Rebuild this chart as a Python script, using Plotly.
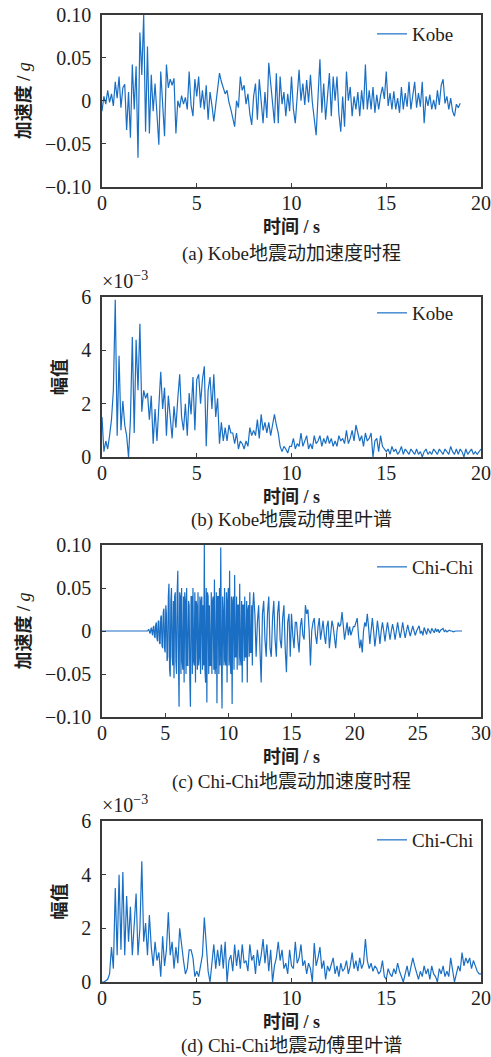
import numpy as np
import plotly.graph_objects as go

# ---------------- data ----------------
kobe_dt = 0.1
kobe_acc = [
    -0.012, 0.005, -0.004, 0.012, -0.002, 0.008, -0.006, 0.022, 0.003, 0.028,
    -0.008, 0.015, 0.019, -0.034, 0.010, -0.043, 0.042, -0.010, 0.040, -0.066,
    0.079, 0.030, 0.100, -0.036, 0.063, -0.038, 0.030, -0.012, 0.020, -0.020,
    -0.051, 0.034, -0.010, -0.041, 0.042, 0.015, 0.025, 0.018, 0.026, -0.038,
    0.000, -0.008, 0.006, -0.004, 0.004, -0.010, 0.034, -0.005, -0.018, 0.025,
    0.005, 0.028, -0.008, 0.012, -0.010, 0.018, -0.022, 0.010, -0.005, -0.024,
    -0.005, 0.012, 0.032, 0.022, 0.015, 0.008, 0.012, -0.002, -0.010, -0.022,
    -0.030, 0.000, -0.008, 0.028, 0.012, 0.018, -0.004, 0.008, -0.015, -0.028,
    0.005, 0.020, -0.022, 0.025, 0.000, -0.026, 0.010, -0.020, 0.044, 0.020,
    0.002, -0.026, 0.032, -0.026, 0.028, -0.004, 0.010, -0.018, 0.008, -0.012,
    0.028, -0.010, -0.026, 0.005, 0.036, 0.000, 0.020, -0.005, 0.024, -0.002,
    0.030, -0.002, -0.020, -0.040, 0.005, 0.048, -0.014, 0.020, -0.022, 0.010,
    0.032, -0.018, 0.028, 0.000, 0.028, -0.015, -0.036, 0.005, -0.030, 0.034,
    0.000, 0.016, -0.018, 0.005, -0.010, 0.010, -0.018, 0.012, -0.010, 0.042,
    -0.010, 0.012, -0.010, 0.016, -0.014, 0.007, -0.010, 0.006, 0.016, 0.002,
    0.034, -0.006, 0.009, -0.010, 0.011, -0.010, 0.003, -0.014, 0.016, -0.010,
    0.009, -0.007, 0.022, -0.010, 0.009, 0.022, -0.008, 0.009, -0.007, 0.022,
    -0.026, 0.005, -0.006, 0.007, -0.010, 0.001, -0.010, 0.012, -0.005, 0.018,
    0.025, -0.003, 0.005, -0.010, 0.003, -0.012, -0.018, -0.004, -0.008, -0.003,
]

kobe_df = 0.1
kobe_spec = [  # x 1e-3
    1.5, 0.2, 0.6, 0.3, 0.8, 1.4, 2.5, 5.9, 0.8, 3.8,
    1.0, 2.1, 1.2, 0.8, 0.0, 1.4, 4.5, 0.9, 4.4, 2.5,
    5.0, 1.7, 2.5, 2.2, 2.4, 1.4, 2.3, 0.5, 1.8, 0.6,
    1.9, 3.2, 1.8, 2.6, 0.8, 2.3, 1.5, 0.7, 1.9, 1.1,
    2.2, 3.1, 1.5, 1.0, 2.0, 0.8, 2.4, 1.6, 3.0, 1.0,
    2.9, 3.1, 2.0, 2.9, 3.4, 0.4, 2.5, 3.0, 1.8, 3.1,
    1.5, 2.2, 0.5, 1.3, 0.6, 1.1, 0.6, 1.2, 0.9, 0.9,
    0.5, 0.9, 0.3, 0.6, 0.5, 0.3, 0.6, 0.4, 1.1, 0.8,
    1.0, 0.8, 1.4, 0.7, 1.6, 1.0, 1.3, 0.9, 1.3, 0.8,
    1.2, 1.6, 1.2, 0.9, 0.4, 0.2, 0.4, 0.3, 0.15, 0.4,
    0.4, 0.7, 0.3, 0.5, 0.4, 0.9, 0.4, 0.6, 0.8, 0.3,
    0.5, 0.3, 0.8, 0.5, 0.6, 0.8, 0.4, 0.7, 0.5, 0.8,
    0.5, 0.7, 0.4, 0.6, 0.4, 0.8, 0.6, 0.7, 0.5, 1.0,
    0.5, 0.7, 1.0, 0.6, 1.2, 0.9, 0.6, 0.8, 0.4, 0.9,
    0.6, 0.7, 0.9, 0.0, 0.6, 0.7, 0.2, 0.8, 0.4, 0.3,
    0.2, 0.3, 0.1, 0.4, 0.2, 0.3, 0.1, 0.2, 0.4, 0.1,
    0.3, 0.2, 0.1, 0.3, 0.2, 0.1, 0.3, 0.1, 0.2, 0.0,
    0.2, 0.3, 0.1, 0.2, 0.1, 0.3, 0.2, 0.1, 0.3, 0.2,
    0.1, 0.3, 0.2, 0.1, 0.4, 0.2, 0.1, 0.3, 0.1, 0.3,
    0.2, 0.0, 0.3, 0.1, 0.2, 0.3, 0.1, 0.2, 0.1, 0.2,
    0.3,
]

# Chi-Chi record: sampling grid in segments (start, stop, step)
chichi_segments = [(0.0, 4.0, 0.1), (4.0, 12.0, 0.05), (12.0, 28.5, 0.1)]
chichi_acc = [
    # 0.0 - 3.9 s (step 0.1)
    0.0, 0.0, 0.0, 0.0, 0.0, 0.0, 0.0, 0.0, 0.0, 0.0,
    0.0, 0.0, 0.0, 0.0, 0.0, 0.0, 0.0, 0.0, 0.0, 0.0,
    0.0, 0.0, 0.0, 0.0, 0.0, 0.0, 0.0, 0.0, 0.0, 0.0,
    0.0, 0.0, 0.0, 0.0, 0.0, 0.0, 0.0, 0.002, -0.003, 0.004,
    # 4.0 - 11.95 s (step 0.05)
    -0.005, 0.004, 0.006, -0.006, -0.008, 0.007, 0.010, -0.009, -0.012, 0.011,
    0.012, -0.014, -0.015, 0.016, 0.018, -0.017, -0.020, 0.022, 0.026, -0.020,
    -0.025, 0.030, 0.020, -0.035, -0.030, 0.040, 0.055, -0.045, -0.053, 0.035,
    0.050, -0.030, -0.040, 0.035, -0.055, 0.040, 0.045, -0.035, -0.050, 0.045,
    0.070, -0.030, -0.088, 0.045, 0.040, -0.050, 0.050, -0.035, -0.045, 0.040,
    -0.060, 0.045, 0.035, -0.050, 0.050, -0.040, -0.040, 0.035, 0.030, -0.055,
    -0.088, 0.040, 0.040, -0.050, 0.050, -0.035, -0.040, 0.045, -0.060, 0.035,
    0.030, -0.045, 0.045, -0.040, -0.030, 0.040, -0.050, 0.035, 0.040, -0.045,
    0.030, -0.040, 0.100, -0.045, -0.060, 0.050, -0.083, 0.045, 0.040, -0.050,
    0.030, -0.040, -0.040, 0.045, -0.050, 0.035, 0.040, -0.045, 0.060, -0.050,
    -0.040, 0.045, -0.084, 0.040, 0.040, -0.050, 0.050, -0.040, 0.097, -0.030,
    -0.090, 0.040, 0.020, -0.040, 0.050, -0.035, -0.040, 0.045, -0.060, 0.035,
    0.050, -0.040, 0.070, -0.035, -0.050, 0.040, -0.085, 0.035, 0.040, -0.045,
    0.065, -0.030, -0.030, 0.040, -0.045, 0.030, 0.030, -0.040, 0.055, -0.030,
    -0.040, 0.035, -0.060, 0.030, 0.030, -0.035, 0.040, -0.030, -0.030, 0.035,
    -0.060, 0.025, 0.030, -0.030, 0.045, -0.025, -0.025, 0.030, -0.040, 0.030,
    # 12.0 - 28.5 s (step 0.1)
    0.045, 0.020, -0.030, 0.010, 0.030, -0.020, -0.060, 0.020, 0.035, -0.010,
    -0.030, 0.020, 0.040, -0.020, -0.030, 0.015, 0.035, -0.010, -0.030, 0.020,
    0.035, -0.010, -0.020, 0.015, 0.030, -0.020, -0.048, 0.010, 0.020, -0.030,
    0.020, -0.005, -0.020, 0.010, 0.010, -0.010, -0.025, 0.005, 0.015, -0.005,
    -0.010, 0.030, 0.020, 0.025, 0.000, -0.040, 0.000, 0.010, 0.015, -0.005,
    -0.015, 0.005, 0.015, -0.010, 0.005, 0.012, -0.005, -0.015, 0.005, 0.012,
    -0.020, 0.000, 0.012, 0.005, -0.010, -0.020, 0.000, 0.010, 0.005, 0.008,
    0.022, 0.005, -0.010, 0.000, 0.010, -0.005, 0.005, -0.005, 0.000, 0.005,
    0.005, 0.010, 0.015, -0.005, -0.020, -0.010, -0.025, 0.000, 0.010, 0.005,
    0.020, 0.005, -0.015, 0.000, 0.015, 0.000, -0.018, -0.005, 0.012, 0.000,
    -0.015, 0.000, 0.010, 0.000, -0.012, 0.000, 0.010, 0.000, -0.010, 0.000,
    0.008, 0.000, -0.010, 0.000, 0.010, 0.000, -0.008, 0.000, 0.010, 0.000,
    -0.008, 0.000, 0.007, 0.000, -0.006, 0.000, 0.006, 0.000, -0.005, 0.000,
    0.004, 0.006, -0.003, 0.000, -0.005, 0.004, 0.000, -0.004, 0.003, 0.000,
    -0.003, 0.003, 0.000, -0.002, 0.003, -0.001, 0.002, -0.002, 0.001, 0.002,
    0.003, -0.001, 0.001, -0.001, 0.000, 0.001, 0.000, 0.000, -0.001, 0.000,
    0.000, 0.000, 0.000, 0.000, 0.000, 0.000,
]

chichi_df = 0.1
chichi_spec = [  # x 1e-3
    0.0, 0.0, 0.05, 0.1, 0.3, 1.3, 0.5, 3.5, 1.0, 4.0,
    1.2, 4.1, 1.0, 3.2, 1.5, 2.8, 1.0, 2.2, 3.3, 1.0,
    2.0, 4.5, 1.5, 2.2, 1.0, 2.5, 1.3, 0.6, 1.5, 0.8,
    1.1, 0.2, 1.7, 0.6, 1.2, 2.6, 1.0, 1.5, 0.5, 1.3,
    0.7, 2.0, 1.3, 0.8, 0.3, 0.5, 1.2, 1.2, 0.9, 0.2,
    0.4, 0.2, 0.6, 1.0, 2.4, 1.2, 0.4, 0.0, 0.8, 1.4,
    0.5, 1.2, 0.6, 1.4, 0.5, 1.5, 0.0, 0.8, 1.0, 0.4,
    1.4, 0.6, 1.2, 0.5, 1.4, 0.7, 0.8, 0.4, 1.4, 0.8,
    1.0, 0.3, 1.2, 0.6, 1.0, 1.6, 0.7, 1.4, 0.4, 1.2,
    0.0, 0.6, 0.9, 1.5, 0.8, 1.2, 0.5, 0.7, 0.3, 1.2,
    0.6, 0.5, 1.5, 0.7, 0.9, 1.4, 0.6, 0.8, 0.3, 0.7,
    0.5, 0.0, 1.45, 0.6, 0.9, 1.3, 0.5, 0.8, 0.1, 0.6,
    0.4, 0.7, 0.9, 0.3, 0.6, 0.2, 0.7, 0.4, 0.5, 0.8,
    0.3, 0.6, 1.1, 0.5, 0.8, 0.4, 0.9, 0.5, 0.7, 1.6,
    0.8, 0.5, 0.7, 0.4, 0.6, 0.5, 0.3, 0.4, 0.8, 0.2,
    0.1, 0.5, 0.3, 0.2, 0.5, 0.3, 0.7, 0.4, 0.2, 0.0,
    0.3, 0.6, 0.2, 0.5, 0.9, 0.6, 0.3, 0.1, 0.4, 0.2,
    0.6, 0.3, 0.5, 0.1, 0.6, 0.3, 0.2, 0.0, 0.5, 0.3,
    0.6, 0.2, 0.4, 0.2, 0.9, 0.4, 0.0, 0.3, 0.6, 0.4,
    1.1, 0.6, 0.9, 0.7, 0.9, 0.5, 0.8, 0.6, 0.4, 0.3,
    0.3,
]

acc_tickvals = [-0.10, -0.05, 0, 0.05, 0.10]
acc_ticktext = ["\u22120.10", "\u22120.05", "0", "0.05", "0.10"]
spec_tickvals = [0, 2, 4, 6]
captions = [
    "(a) Kobe地震动加速度时程",
    "(b) Kobe地震动傅里叶谱",
    "(c) Chi-Chi地震动加速度时程",
    "(d) Chi-Chi地震动傅里叶谱",
]

# ---------------- figure ----------------
W, H = 491, 1057
LINE = "#1a6fc4"
SERIF = "Liberation Serif, Noto Sans CJK SC, serif"
AXC = "#3a3a3a"
TXT = "#1e1e1e"

def py(px):
    return 1 - px / H

def uniform_time(n, dt):
    return np.round(np.arange(n) * dt, 3)

def segment_time(segments):
    parts = []
    for k, (a, b, s) in enumerate(segments):
        n = int(round((b - a) / s)) + (1 if k == len(segments) - 1 else 0)
        parts.append(a + np.arange(n) * s)
    return np.round(np.concatenate(parts), 3)

x0, x1 = 102 / W, 481 / W
panels = [  # (top px, bottom px)
    (14.5, 187), (297, 457), (545, 717), (821, 982),
]

fig = go.Figure()

series = [
    (uniform_time(len(kobe_acc), kobe_dt), kobe_acc, "Kobe"),
    (uniform_time(len(kobe_spec), kobe_df), kobe_spec, "Kobe"),
    (segment_time(chichi_segments), chichi_acc, "Chi-Chi"),
    (uniform_time(len(chichi_spec), chichi_df), chichi_spec, "Chi-Chi"),
]
legend_names = ["legend", "legend2", "legend3", "legend4"]
for i, (t, vals, name) in enumerate(series):
    fig.add_trace(go.Scatter(
        x=t[:len(vals)], y=vals[:len(t)], mode="lines", name=name,
        line=dict(color=LINE, width=1.2),
        xaxis="x" if i == 0 else f"x{i+1}",
        yaxis="y" if i == 0 else f"y{i+1}",
        legend=legend_names[i], showlegend=True,
    ))

layout = dict(
    template="none",
    width=W, height=H,
    margin=dict(l=0, r=0, t=0, b=0, pad=0, autoexpand=False),
    paper_bgcolor="white", plot_bgcolor="white",
    font=dict(family=SERIF, size=19, color=TXT),
    showlegend=True,
)

xranges = [[0, 20], [0, 20], [0, 30], [0, 20]]
ytitles = ["<b>加速度 / </b><i>g</i>", "<b>幅值</b>", "<b>加速度 / </b><i>g</i>", "<b>幅值</b>"]
legend_y = [34, 313, 567, 840]

for i, (top, bot) in enumerate(panels):
    xs = "xaxis" if i == 0 else f"xaxis{i+1}"
    ys = "yaxis" if i == 0 else f"yaxis{i+1}"
    xa = "x" if i == 0 else f"x{i+1}"
    ya = "y" if i == 0 else f"y{i+1}"
    common = dict(showline=True, linecolor=AXC, linewidth=1.6, mirror=True,
                  ticks="inside", ticklen=4, tickwidth=1.3, tickcolor=AXC,
                  showgrid=False, zeroline=False, automargin=False,
                  tickfont=dict(family=SERIF, size=20, color=TXT))
    layout[xs] = dict(domain=[x0, x1], anchor=ya, range=xranges[i], dtick=5,
                      tick0=0, tickmode="linear", ticklabelstandoff=-3,
                      title=dict(text="<b>时间 / s</b>", standoff=8,
                                 font=dict(family=SERIF, size=18, color=TXT)),
                      **common)
    if i in (0, 2):
        yextra = dict(range=[-0.1, 0.1], tickvals=acc_tickvals, ticktext=acc_ticktext)
    else:
        yextra = dict(range=[0, 6], tickvals=spec_tickvals)
    layout[ys] = dict(domain=[py(bot), py(top)], anchor=xa, ticklabelstandoff=5,
                      title=dict(text=ytitles[i], standoff=10,
                                 font=dict(family=SERIF, size=18, color=TXT)),
                      **yextra, **common)
    layout[legend_names[i]] = dict(
        x=372 / W, y=py(legend_y[i]), xanchor="left", yanchor="middle",
        bgcolor="rgba(0,0,0,0)", borderwidth=0,
        font=dict(family=SERIF, size=19, color=TXT),
    )

fig.update_layout(**layout)

# ×10^-3 exponent labels on the spectrum panels
for top in (297, 821):
    fig.add_annotation(text="×10<sup>\u22123</sup>", xref="paper", yref="paper",
                       x=100 / W, y=py(top - 3), xanchor="left", yanchor="bottom",
                       showarrow=False, font=dict(family=SERIF, size=20, color=TXT))

caption_y = [254, 520, 782, 1046]
for txt, cy in zip(captions, caption_y):
    fig.add_annotation(text=txt, xref="paper", yref="paper",
                       x=291.5 / W, y=py(cy), xanchor="center", yanchor="middle",
                       showarrow=False, font=dict(family=SERIF, size=19, color=TXT))

fig.write_html("out.html")
